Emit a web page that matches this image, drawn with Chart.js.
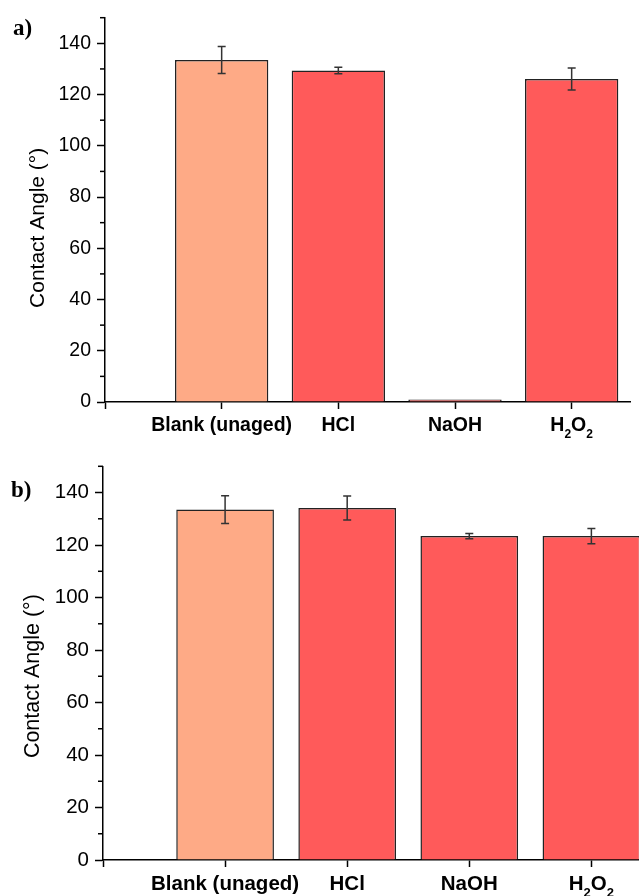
<!DOCTYPE html>
<html><head><meta charset="utf-8">
<script src="https://cdn.jsdelivr.net/npm/chart.js@4/dist/chart.umd.min.js"></script>
<style>
html,body{margin:0;padding:0;background:#fff;}
#wrap{position:relative;width:639px;height:896px;overflow:hidden;background:#fff;}
canvas{position:absolute;left:0;}
#c1{top:0}
#c2{top:448px}
.pl{position:absolute;font-family:"Liberation Serif","Times New Roman",serif;font-weight:bold;font-size:23px;color:#000;line-height:1;}
</style></head><body>
<div id="wrap">
<canvas id="c1" width="639" height="448"></canvas>
<canvas id="c2" width="639" height="448"></canvas>
<div class="pl" style="left:13px;top:16px">a)</div>
<div class="pl" style="left:11px;top:478px">b)</div>
</div>
<script>
// ---- data ----
const categories = ['Blank (unaged)', 'HCl', 'NaOH', 'H2O2'];
const panelAValues = [133.5, 129.4, 1.0, 126.1];
const panelAErrors = [5.3, 1.3, 0, 4.3];
const panelBValues = [133.5, 134.1, 123.4, 123.4];
const panelBErrors = [5.3, 4.6, 1.0, 2.9];
const yMajorTicks = [0, 20, 40, 60, 80, 100, 120, 140];
const yMinorTicks = [10, 30, 50, 70, 90, 110, 130, 150];
const xTickPositions = [-1, 0, 1, 2, 3];
const yTitle = 'Contact Angle (°)';
const barColors = ['#FEAA86', '#FF5A5A', '#FF5A5A', '#FF5A5A'];

const SANS = '"Liberation Sans", Arial, sans-serif';

function makePanel(id, values, errors, cfg) {
  const F = cfg.font;
  const errPlugin = {
    id: 'err' + id,
    afterDatasetsDraw(chart) {
      const ctx = chart.ctx, ys = chart.scales.y, meta = chart.getDatasetMeta(0);
      ctx.save();
      ctx.strokeStyle = '#333';
      ctx.lineWidth = 1.5;
      values.forEach((v, i) => {
        const e = errors[i];
        if (!e) return;
        const x = meta.data[i].x;
        const yt = ys.getPixelForValue(v + e), yb = ys.getPixelForValue(v - e);
        ctx.beginPath();
        ctx.moveTo(x, yt); ctx.lineTo(x, yb);
        ctx.moveTo(x - 4, yt); ctx.lineTo(x + 4, yt);
        ctx.moveTo(x - 4, yb); ctx.lineTo(x + 4, yb);
        ctx.stroke();
      });
      ctx.restore();
    },
    afterDraw(chart) {
      const ctx = chart.ctx, ys = chart.scales.y, xs = chart.scales.x;
      const area = chart.chartArea;
      ctx.save();
      ctx.strokeStyle = '#000';
      ctx.lineWidth = 1.5;
      const x0 = area.left;
      yMinorTicks.forEach(v => {
        const y = ys.getPixelForValue(v);
        ctx.beginPath(); ctx.moveTo(x0 - 5, y); ctx.lineTo(x0, y); ctx.stroke();
      });
      // y-axis title
      ctx.save();
      ctx.translate(cfg.titleX, (area.top + area.bottom) / 2 + cfg.titleDy);
      ctx.rotate(-Math.PI / 2);
      ctx.font = cfg.titleF + 'px ' + SANS;
      ctx.fillStyle = '#000';
      ctx.textAlign = 'center';
      ctx.textBaseline = 'middle';
      ctx.fillText(yTitle, 0, 0);
      ctx.restore();
      // H2O2 label with subscripts
      const items = xs.getLabelItems();
      const ref = items.find(it => it.label === categories[2]);
      if (ref) {
        const y = ref.options.translation[1] + (ref.textOffset || 0);
        const cx = xs.getPixelForValue(3);
        const mainF = 'bold ' + F + 'px ' + SANS;
        const subF = 'bold ' + Math.round(F * 0.62) + 'px ' + SANS;
        ctx.fillStyle = '#000';
        ctx.textBaseline = ref.options.textBaseline;
        ctx.font = mainF;
        const mH = ctx.measureText('H');
        const wH = mH.width, wO = ctx.measureText('O').width;
        const base = y + mH.actualBoundingBoxDescent;
        ctx.font = subF;
        const w2 = ctx.measureText('2').width;
        const total = wH + w2 + wO + w2;
        let x = cx - total / 2;
        ctx.textAlign = 'left';
        ctx.textBaseline = 'alphabetic';
        ctx.font = mainF; ctx.fillText('H', x, base); x += wH;
        ctx.font = subF; ctx.fillText('2', x, base + F * 0.36); x += w2;
        ctx.font = mainF; ctx.fillText('O', x, base); x += wO;
        ctx.font = subF; ctx.fillText('2', x, base + F * 0.36);
      }
      ctx.restore();
    }
  };

  return new Chart(document.getElementById(id), {
    type: 'bar',
    data: {
      datasets: [{
        data: values.map((v, i) => ({ x: i, y: v })),
        backgroundColor: barColors,
        borderColor: '#222',
        borderWidth: 1.5,
        barPercentage: 0.8,
        categoryPercentage: 1.0
      }]
    },
    options: {
      responsive: false,
      animation: false,
      layout: { padding: { top: cfg.top, right: cfg.right, left: 0, bottom: 0 } },
      plugins: { legend: { display: false }, tooltip: { enabled: false } },
      scales: {
        x: {
          type: 'linear',
          offset: false,
          min: -1,
          max: cfg.xMax,
          afterBuildTicks: s => { s.ticks = xTickPositions.map(v => ({ value: v })); },
          afterFit: s => { s.height = cfg.xAxisH; },
          ticks: {
            autoSkip: false, maxRotation: 0, minRotation: 0,
            padding: cfg.xPad,
            color: '#000',
            font: { family: SANS, size: F, weight: 'bold' },
            callback: v => (v >= 0 && v <= 2) ? categories[v] : ''
          },
          grid: { offset: false, drawOnChartArea: false, drawTicks: true, tickLength: 7, tickWidth: 1.5, tickColor: '#000' },
          border: { display: true, color: '#000', width: 1.5 }
        },
        y: {
          min: 0, max: 150,
          afterBuildTicks: s => { s.ticks = yMajorTicks.map(v => ({ value: v })); },
          afterFit: s => { s.width = cfg.leftW; },
          ticks: {
            padding: 6,
            color: '#000',
            font: { family: SANS, size: F },
            callback: v => String(v)
          },
          grid: { drawOnChartArea: false, drawTicks: true, tickLength: 8, tickWidth: 1.5, tickColor: '#000' },
          border: { display: true, color: '#000', width: 1.5 },
          title: { display: false, text: yTitle }
        }
      }
    },
    plugins: [errPlugin]
  });
}

makePanel('c1', panelAValues, panelAErrors, { font: 19.5, titleF: 21, titleX: 38, titleDy: 18, top: 15, right: 9, xMax: 3.5, xAxisH: 46, leftW: 105, xPad: 5 });
makePanel('c2', panelBValues, panelBErrors, { font: 20.5, titleF: 21.5, titleX: 33, titleDy: 13, top: 8, right: 0, xMax: 3.39, xAxisH: 36, leftW: 103, xPad: 5 });
</script>
</body></html>
